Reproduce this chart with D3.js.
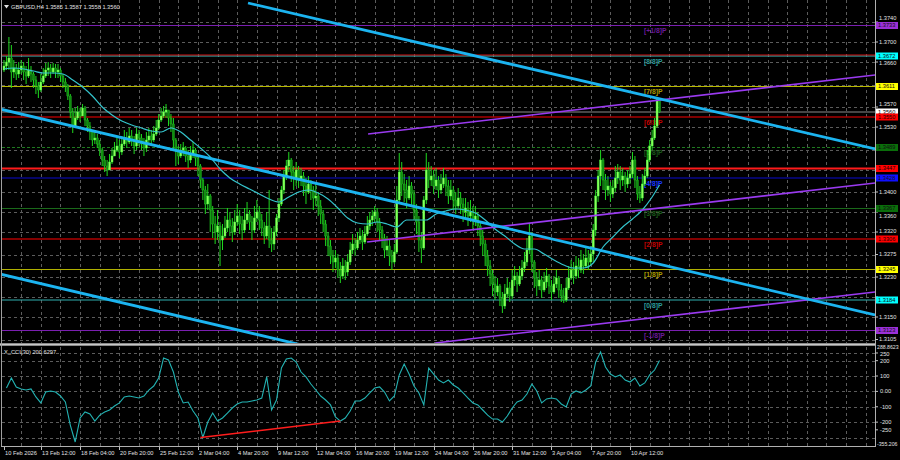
<!DOCTYPE html>
<html><head><meta charset="utf-8">
<script src="https://cdn.jsdelivr.net/npm/d3@7"></script>
<style>html,body{margin:0;padding:0;background:#000;}svg{display:block}</style>
</head><body>
<svg id="c" width="900" height="460"></svg>
<script>
// ---------------- DATA ----------------
const symbolTitle = "GBPUSD,H4  1.3585 1.3587 1.3558 1.3560";
const cciTitle = "X_CCI(30) 200.6297";
const firstOpen = 1.3644;
const closes = [
1.3652,1.3660,1.3668,1.3640,1.3648,1.3636,1.3644,1.3652,1.3640,1.3632,
1.3644,1.3636,1.3624,1.3612,1.3604,1.3620,1.3632,1.3644,1.3648,1.3640,
1.3648,1.3640,1.3644,1.3632,1.3620,1.3612,1.3592,1.3560,1.3532,1.3548,
1.3560,1.3552,1.3568,1.3544,1.3532,1.3520,1.3504,1.3508,1.3496,1.3484,
1.3464,1.3452,1.3444,1.3460,1.3472,1.3484,1.3492,1.3480,1.3496,1.3508,
1.3500,1.3512,1.3504,1.3492,1.3516,1.3508,1.3496,1.3488,1.3504,1.3512,
1.3504,1.3516,1.3528,1.3544,1.3552,1.3560,1.3564,1.3548,1.3536,1.3504,
1.3484,1.3472,1.3484,1.3488,1.3472,1.3464,1.3476,1.3484,1.3468,1.3452,
1.3424,1.3404,1.3376,1.3392,1.3364,1.3336,1.3320,1.3332,1.3304,1.3312,
1.3328,1.3344,1.3332,1.3320,1.3340,1.3352,1.3336,1.3324,1.3344,1.3356,
1.3340,1.3324,1.3348,1.3360,1.3344,1.3328,1.3312,1.3332,1.3304,1.3296,
1.3320,1.3348,1.3376,1.3404,1.3432,1.3452,1.3464,1.3440,1.3428,1.3444,
1.3424,1.3432,1.3412,1.3400,1.3416,1.3404,1.3388,1.3392,1.3372,1.3356,
1.3336,1.3312,1.3292,1.3272,1.3260,1.3268,1.3244,1.3232,1.3252,1.3240,
1.3260,1.3284,1.3296,1.3288,1.3304,1.3312,1.3300,1.3316,1.3332,1.3344,
1.3352,1.3360,1.3340,1.3324,1.3308,1.3284,1.3292,1.3272,1.3260,1.3280,
1.3384,1.3440,1.3416,1.3404,1.3388,1.3412,1.3396,1.3364,1.3340,1.3304,
1.3288,1.3384,1.3444,1.3424,1.3432,1.3412,1.3424,1.3404,1.3416,1.3428,
1.3412,1.3392,1.3404,1.3384,1.3372,1.3388,1.3376,1.3360,1.3368,1.3352,
1.3360,1.3344,1.3352,1.3332,1.3312,1.3296,1.3272,1.3252,1.3236,1.3216,
1.3200,1.3212,1.3188,1.3172,1.3196,1.3208,1.3192,1.3224,1.3232,1.3216,
1.3232,1.3248,1.3260,1.3284,1.3312,1.3260,1.3228,1.3212,1.3224,1.3204,
1.3220,1.3232,1.3212,1.3200,1.3216,1.3228,1.3204,1.3192,1.3184,1.3208,
1.3228,1.3244,1.3232,1.3252,1.3244,1.3264,1.3252,1.3268,1.3260,1.3276,
1.3324,1.3392,1.3432,1.3464,1.3424,1.3404,1.3412,1.3396,1.3408,1.3428,
1.3440,1.3424,1.3432,1.3416,1.3428,1.3436,1.3464,1.3424,1.3396,1.3388,
1.3416,1.3432,1.3464,1.3492,1.3508,1.3532,1.3585,1.3560];
const highs = [
1.3664,1.3672,1.3710,1.3694,1.3664,1.3656,1.3660,1.3664,1.3660,1.3652,
1.3668,1.3652,1.3640,1.3632,1.3620,1.3636,1.3648,1.3658,1.3660,1.3656,
1.3658,1.3656,1.3656,1.3648,1.3636,1.3628,1.3616,1.3596,1.3568,1.3568,
1.3572,1.3568,1.3576,1.3572,1.3548,1.3540,1.3524,1.3524,1.3516,1.3504,
1.3488,1.3472,1.3464,1.3476,1.3488,1.3500,1.3508,1.3504,1.3512,1.3524,
1.3520,1.3528,1.3524,1.3512,1.3528,1.3524,1.3516,1.3508,1.3520,1.3528,
1.3524,1.3532,1.3544,1.3556,1.3568,1.3572,1.3576,1.3564,1.3556,1.3548,
1.3508,1.3492,1.3496,1.3500,1.3492,1.3484,1.3492,1.3500,1.3488,1.3472,
1.3456,1.3428,1.3412,1.3416,1.3396,1.3372,1.3352,1.3364,1.3340,1.3336,
1.3352,1.3368,1.3360,1.3348,1.3364,1.3376,1.3364,1.3352,1.3368,1.3380,
1.3364,1.3352,1.3372,1.3384,1.3372,1.3356,1.3340,1.3360,1.3404,1.3328,
1.3332,1.3356,1.3388,1.3412,1.3444,1.3464,1.3480,1.3468,1.3452,1.3460,
1.3452,1.3448,1.3440,1.3428,1.3432,1.3424,1.3412,1.3416,1.3400,1.3384,
1.3364,1.3344,1.3320,1.3304,1.3284,1.3284,1.3276,1.3260,1.3268,1.3264,
1.3276,1.3300,1.3316,1.3308,1.3320,1.3328,1.3324,1.3332,1.3352,1.3360,
1.3364,1.3372,1.3368,1.3348,1.3332,1.3316,1.3312,1.3304,1.3284,1.3296,
1.3412,1.3478,1.3460,1.3436,1.3424,1.3432,1.3420,1.3404,1.3376,1.3352,
1.3320,1.3392,1.3478,1.3460,1.3452,1.3444,1.3448,1.3432,1.3436,1.3448,
1.3436,1.3424,1.3424,1.3412,1.3400,1.3408,1.3400,1.3388,1.3388,1.3380,
1.3384,1.3372,1.3372,1.3360,1.3340,1.3324,1.3304,1.3284,1.3264,1.3244,
1.3232,1.3228,1.3216,1.3200,1.3216,1.3228,1.3220,1.3244,1.3252,1.3240,
1.3252,1.3264,1.3280,1.3308,1.3338,1.3320,1.3264,1.3240,1.3244,1.3232,
1.3240,1.3248,1.3236,1.3224,1.3232,1.3244,1.3232,1.3216,1.3208,1.3228,
1.3252,1.3264,1.3260,1.3272,1.3268,1.3284,1.3276,1.3288,1.3284,1.3292,
1.3336,1.3404,1.3444,1.3484,1.3468,1.3436,1.3432,1.3420,1.3424,1.3452,
1.3456,1.3452,1.3448,1.3440,1.3444,1.3452,1.3480,1.3472,1.3432,1.3412,
1.3436,1.3448,1.3484,1.3504,1.3524,1.3548,1.3586,1.3587];
const lows = [
1.3640,1.3644,1.3644,1.3608,1.3628,1.3624,1.3628,1.3636,1.3624,1.3616,
1.3628,1.3620,1.3608,1.3596,1.3588,1.3600,1.3616,1.3628,1.3632,1.3628,
1.3636,1.3628,1.3628,1.3620,1.3608,1.3600,1.3584,1.3548,1.3518,1.3528,
1.3544,1.3540,1.3552,1.3532,1.3520,1.3504,1.3492,1.3496,1.3488,1.3472,
1.3452,1.3440,1.3432,1.3444,1.3456,1.3472,1.3480,1.3468,1.3474,1.3492,
1.3488,1.3496,1.3492,1.3476,1.3484,1.3492,1.3484,1.3472,1.3480,1.3496,
1.3492,1.3500,1.3512,1.3524,1.3540,1.3548,1.3548,1.3532,1.3520,1.3484,
1.3452,1.3456,1.3468,1.3472,1.3460,1.3448,1.3458,1.3468,1.3452,1.3432,
1.3408,1.3384,1.3356,1.3364,1.3320,1.3308,1.3296,1.3304,1.3252,1.3284,
1.3308,1.3320,1.3312,1.3300,1.3314,1.3332,1.3316,1.3304,1.3318,1.3336,
1.3324,1.3304,1.3318,1.3340,1.3324,1.3312,1.3296,1.3306,1.3288,1.3280,
1.3284,1.3312,1.3340,1.3372,1.3396,1.3424,1.3440,1.3420,1.3404,1.3412,
1.3408,1.3412,1.3392,1.3376,1.3396,1.3384,1.3364,1.3372,1.3352,1.3336,
1.3320,1.3292,1.3272,1.3256,1.3240,1.3248,1.3228,1.3218,1.3226,1.3224,
1.3232,1.3254,1.3276,1.3272,1.3284,1.3296,1.3284,1.3296,1.3312,1.3324,
1.3332,1.3340,1.3320,1.3304,1.3288,1.3268,1.3272,1.3252,1.3244,1.3256,
1.3276,1.3376,1.3392,1.3380,1.3368,1.3384,1.3372,1.3344,1.3316,1.3280,
1.3258,1.3284,1.3376,1.3408,1.3412,1.3396,1.3404,1.3388,1.3396,1.3408,
1.3392,1.3376,1.3384,1.3364,1.3356,1.3368,1.3356,1.3340,1.3344,1.3332,
1.3340,1.3324,1.3332,1.3312,1.3292,1.3272,1.3252,1.3232,1.3212,1.3192,
1.3184,1.3192,1.3172,1.3158,1.3166,1.3188,1.3180,1.3186,1.3212,1.3200,
1.3212,1.3224,1.3240,1.3252,1.3276,1.3240,1.3208,1.3192,1.3204,1.3188,
1.3200,1.3208,1.3196,1.3184,1.3196,1.3208,1.3188,1.3180,1.3178,1.3180,
1.3204,1.3224,1.3216,1.3226,1.3228,1.3238,1.3236,1.3248,1.3244,1.3254,
1.3260,1.3312,1.3380,1.3412,1.3404,1.3384,1.3392,1.3380,1.3388,1.3400,
1.3416,1.3404,1.3412,1.3400,1.3408,1.3416,1.3428,1.3408,1.3384,1.3378,
1.3382,1.3412,1.3428,1.3460,1.3484,1.3504,1.3528,1.3558];

// moving average (cyan thin line), sampled bars
const maBars = [0,4,8,12,16,20,24,28,32,36,40,44,48,52,56,60,64,68,72,76,80,84,88,92,96,100,104,108,112,116,120,124,128,132,136,140,144,148,152,156,160,164,168,172,176,180,184,188,192,196,200,204,208,212,216,220,224,228,232,236,240,244,248,252,256,260,264,267];
const maValues = [1.3646,1.3648,1.3646,1.3642,1.3638,1.3638,1.3636,1.3624,1.3610,1.3592,1.3570,1.3554,1.3542,1.3534,1.3528,1.3522,1.3520,1.3528,1.3520,1.3504,1.3488,1.3470,1.3446,1.3428,1.3416,1.3406,1.3396,1.3386,1.3380,1.3390,1.3400,1.3404,1.3398,1.3386,1.3368,1.3348,1.3338,1.3336,1.3340,1.3336,1.3330,1.3344,1.3344,1.3344,1.3356,1.3362,1.3366,1.3364,1.3358,1.3344,1.3326,1.3312,1.3296,1.3286,1.3286,1.3276,1.3264,1.3254,1.3248,1.3248,1.3258,1.3290,1.3310,1.3330,1.3346,1.3364,1.3390,1.3414];

// CCI(30), one value every second bar (bars 1,3,5,...,267)
const cciValues = [22,87,29,16,9,16,-36,-75,-4,3,
 -4,-30,-69,-219,-329,-173,-134,-147,-193,-154,
 -134,-121,-95,-75,-36,-30,-36,-43,-30,9,
 35,87,217,204,126,-4,-75,-69,-128,-173,
 -300,-199,-141,-193,-173,-141,-108,-82,-69,-69,
 -62,-56,-43,95,-121,-56,152,211,217,191,
 126,94,48,9,-30,-56,-88,-166,-193,-173,
 -128,-62,-62,-43,-10,22,29,-4,-62,-30,
 107,178,113,35,-10,-88,152,113,74,55,
 74,42,22,-10,-43,-75,-88,-121,-154,-180,
 -180,-199,-160,-108,-69,-56,-17,48,3,-75,
 -49,-43,-49,-82,-101,-17,3,-10,9,35,
 191,256,159,113,94,107,74,61,87,35,
 55,107,139,200.63];
const divergenceBars = [80, 137];
const divergenceValues = [-300, -193];

// Murrey math levels
const murreyLabels = ["[+1/8]P","[8/8]P","[7/8]P","[6/8]P","[5/8]P","[4/8]P","[3/8]P","[2/8]P","[1/8]P","[0/8]P","[-1/8]P"];
const murreyPrices = [1.3733,1.3672,1.3611,1.3550,1.3489,1.3428,1.3367,1.3306,1.3245,1.3184,1.3123];
const extraRedLevels = [1.3674, 1.3447];
const currentPrice = 1.3560;

// trend lines (cyan) and channel (purple): [bar, price] endpoints
const trendBars = [[99.4,354.8],[-1.63,354.8],[-1.63,354.8]];
const trendPrices = [[1.3778,1.3486],[1.3566,1.3154],[1.3236,1.2824]];
const channelBars = [[148.3,354.8],[147.9,354.8],[175.6,354.8]];
const channelPrices = [[1.3516,1.3634],[1.3300,1.3418],[1.3098,1.3200]];

// axes
const priceTicks = [1.3740,1.3700,1.3660,1.3615,1.3570,1.3530,1.3485,1.3445,1.3400,1.3360,1.3320,1.3275,1.3230,1.3190,1.3150,1.3105];
const cciTicks = [250,200,100,0,-100,-200,-250];
const cciTickLabels = ["250","200","100","0.00","-100","-200","-250"];
const cciMax = 288.8623, cciMin = -355.206;
const timeLabels = ["10 Feb 2026","13 Feb 12:00","18 Feb 04:00","20 Feb 20:00","25 Feb 12:00","2 Mar 04:00","4 Mar 20:00","9 Mar 12:00","12 Mar 04:00","16 Mar 20:00","19 Mar 12:00","24 Mar 04:00","26 Mar 20:00","31 Mar 12:00","3 Apr 04:00","7 Apr 20:00","10 Apr 12:00"];
const timeLabelBars = [0,15,31,47,63,79,95,111,127,143,159,175,191,207,223,239,255];

// ---------------- STYLES / LAYOUT ----------------
const murreyLineColors = ["#7a1fb0","#3fbfbf","#b8b800","#a80000","#1f7a1f","#0a0ad0","#1a6a1a","#b00000","#b0b000","#2fb0b0","#7a1fb0"];
const murreyTextColors = ["#6a1a9a","#2a9a9a","#a89a00","#c00000","#1a5a1a","#1a3aff","#1a5a1a","#c00000","#a89a00","#2a9a9a","#6a1a9a"];
const murreyTagColors = ["#9b30d8","#00ffff","#ffff00","#ff0000","#0a6e0a","#1010ff","#0a6e0a","#ff0000","#ffff00","#00ffff","#9b30d8"];
const FONT = "'Liberation Sans', Arial, sans-serif";
const W=900, H=460, L=2, R=875, mainT=0, mainB=343, cciT=347, cciB=446;

const svg = d3.select('#c');
svg.append('rect').attr('width',W).attr('height',H).attr('fill','#000');
const defs = svg.append('defs');
defs.append('clipPath').attr('id','mainClip').append('rect').attr('x',L).attr('y',mainT).attr('width',R-L).attr('height',mainB-mainT);
defs.append('clipPath').attr('id','cciClip').append('rect').attr('x',L).attr('y',cciT).attr('width',R-L).attr('height',cciB-cciT);

const x = d3.scaleLinear().domain([0,267]).range([4,659.5]);
const y = d3.scaleLinear().domain([1.3105,1.3740]).range([339.5,22]);
const yc = d3.scaleLinear().domain([cciMin,cciMax]).range([cciB,cciT]);

// grid
const grid = svg.append('g').attr('stroke','#5c5c5c').attr('stroke-width',1).attr('stroke-dasharray','3,3');
const vBars = d3.range(7, 360, 8).filter(b => x(b) < R);
vBars.forEach(b => {
  const gx = Math.round(x(b))+0.5;
  grid.append('line').attr('x1',gx).attr('x2',gx).attr('y1',mainT).attr('y2',mainB);
  grid.append('line').attr('x1',gx).attr('x2',gx).attr('y1',cciT).attr('y2',cciB);
});
priceTicks.forEach(p => {
  const gy = Math.round(y(p))+0.5;
  grid.append('line').attr('x1',L).attr('x2',R).attr('y1',gy).attr('y2',gy);
});
[250,200,100,0,-100,-200,-300].forEach(v => {
  const gy = Math.round(yc(v))+0.5;
  grid.append('line').attr('x1',L).attr('x2',R).attr('y1',gy).attr('y2',gy);
});

// main panel content
const main = svg.append('g').attr('clip-path','url(#mainClip)');
murreyPrices.forEach((p,i) => {
  main.append('line').attr('x1',L).attr('x2',R).attr('y1',y(p)).attr('y2',y(p))
    .attr('stroke',murreyLineColors[i]).attr('stroke-width', i===3||i===7 ? 1.5 : 1.2)
    .attr('stroke-dasharray', i===4 ? '3,2' : null);
});
main.append('line').attr('x1',L).attr('x2',R).attr('y1',y(extraRedLevels[0])).attr('y2',y(extraRedLevels[0])).attr('stroke','#d01010').attr('stroke-width',1.2);
main.append('line').attr('x1',L).attr('x2',R).attr('y1',y(extraRedLevels[1])).attr('y2',y(extraRedLevels[1])).attr('stroke','#ff1a1a').attr('stroke-width',2.2);
main.append('line').attr('x1',L).attr('x2',R).attr('y1',y(currentPrice)).attr('y2',y(currentPrice)).attr('stroke','#8c8c8c').attr('stroke-width',1);

murreyLabels.forEach((t,i) => {
  main.append('text').attr('x',644).attr('y',y(murreyPrices[i])+7.5)
    .attr('fill',murreyTextColors[i]).attr('font-family',FONT).attr('font-size',6.8).attr('font-weight','bold').text(t);
});

// candles
const opens = closes.map((c,i) => i===0 ? firstOpen : closes[i-1]);
const cg = main.append('g');
closes.forEach((c,i) => {
  const o = opens[i], cx = x(i);
  cg.append('line').attr('x1',cx).attr('x2',cx).attr('y1',y(highs[i])).attr('y2',y(lows[i]))
    .attr('stroke','#1fd81f').attr('stroke-width',1);
  const top = y(Math.max(o,c)), bot = y(Math.min(o,c));
  cg.append('rect').attr('x',cx-1).attr('y',top).attr('width',2).attr('height',Math.max(1,bot-top))
    .attr('fill', c>=o ? '#8dff5c' : '#0f8f0f').attr('stroke', c>=o ? '#3aff3a' : '#26c026').attr('stroke-width',0.4);
});

// moving average
main.append('path').datum(maBars.map((b,i)=>[b,maValues[i]]))
  .attr('d', d3.line().x(d=>x(d[0])).y(d=>y(d[1])).curve(d3.curveMonotoneX))
  .attr('fill','none').attr('stroke','#34c4cc').attr('stroke-width',1.2);

channelBars.forEach((b,i) => {
  main.append('line').attr('x1',x(b[0])).attr('x2',x(b[1])).attr('y1',y(channelPrices[i][0])).attr('y2',y(channelPrices[i][1]))
    .attr('stroke','#9a3af0').attr('stroke-width',1.6);
});
trendBars.forEach((b,i) => {
  main.append('line').attr('x1',x(b[0])).attr('x2',x(b[1])).attr('y1',y(trendPrices[i][0])).attr('y2',y(trendPrices[i][1]))
    .attr('stroke','#1cb4f0').attr('stroke-width',2.8);
});

// CCI panel
const cci = svg.append('g').attr('clip-path','url(#cciClip)');
cci.append('path').datum(cciValues.map((v,k)=>[2*k+1, v]))
  .attr('d', d3.line().x(d=>x(d[0])).y(d=>yc(d[1])))
  .attr('fill','none').attr('stroke','#23b3b3').attr('stroke-width',1.1);
cci.append('line').attr('x1',x(divergenceBars[0])).attr('x2',x(divergenceBars[1]))
  .attr('y1',yc(divergenceValues[0])).attr('y2',yc(divergenceValues[1]))
  .attr('stroke','#ff1c1c').attr('stroke-width',1.4);

// borders & separator
svg.append('rect').attr('x',0).attr('y',mainB).attr('width',R+1).attr('height',3).attr('fill','#8a8a8a');
svg.append('line').attr('x1',0).attr('x2',R).attr('y1',mainB+1.5).attr('y2',mainB+1.5).attr('stroke','#c8c8c8').attr('stroke-width',1);
svg.append('line').attr('x1',1.5).attr('x2',1.5).attr('y1',0).attr('y2',cciB+1).attr('stroke','#a0a0a0');
svg.append('line').attr('x1',R+0.5).attr('x2',R+0.5).attr('y1',0).attr('y2',cciB+1).attr('stroke','#b0b0b0');
svg.append('line').attr('x1',1).attr('x2',R+1).attr('y1',cciB+0.5).attr('y2',cciB+0.5).attr('stroke','#b0b0b0');

// right price axis: ticks, labels under tags hidden, near ones nudged
const tagPrices = murreyPrices.concat([extraRedLevels[1], currentPrice]);
const ya = svg.append('g');
priceTicks.forEach(p => {
  const ty = y(p);
  ya.append('line').attr('x1',R).attr('x2',R+3).attr('y1',ty).attr('y2',ty).attr('stroke','#c0c0c0');
  let nearest = null, dmin = 1e9;
  tagPrices.forEach(tp => { const d = Math.abs(y(tp)-ty); if (d < dmin) { dmin = d; nearest = y(tp); } });
  if (dmin < 3.2) return;
  let ly = ty;
  if (dmin < 7.5) ly = ty < nearest ? nearest - 7.5 : nearest + 7.5;
  ya.append('text').attr('x',R+4).attr('y',ly).attr('dy','0.35em').attr('fill','#e0e0e0')
    .attr('font-family',FONT).attr('font-size',5.7).text(d3.format('.4f')(p));
});

// tags
const tags = svg.append('g');
function tag(p, bg, tc) {
  const ty = y(p);
  tags.append('rect').attr('x',R+1).attr('y',ty-3.5).attr('width',22).attr('height',7).attr('fill',bg);
  tags.append('text').attr('x',R+3).attr('y',ty).attr('dy','0.35em').attr('fill',tc)
    .attr('font-family',FONT).attr('font-size',5.7).text(d3.format('.4f')(p));
}
murreyPrices.forEach((p,i) => { if (i!==3 && i!==7) tag(p, murreyTagColors[i], '#101010'); });
tag(extraRedLevels[1], '#ff0000', '#200000');
tag(murreyPrices[7], murreyTagColors[7], '#200000');
tag(currentPrice, '#ffffff', '#000000');
tag(murreyPrices[3], murreyTagColors[3], '#200000');

// CCI axis
const ca = svg.append('g');
cciTicks.forEach((v,i) => {
  ca.append('line').attr('x1',R).attr('x2',R+3).attr('y1',yc(v)).attr('y2',yc(v)).attr('stroke','#c0c0c0');
  ca.append('text').attr('x',R+5).attr('y',yc(v) + (i===0 ? 1.5 : 0)).attr('dy','0.35em').attr('fill','#e0e0e0')
    .attr('font-family',FONT).attr('font-size',5.7).text(cciTickLabels[i]);
});
ca.append('text').attr('x',R+2).attr('y',yc(cciMax)+0.5).attr('dy','0.35em').attr('fill','#e0e0e0')
  .attr('font-family',FONT).attr('font-size',5.2).text(d3.format('.4f')(cciMax));
ca.append('text').attr('x',R+2).attr('y',yc(cciMin)-2).attr('dy','0.35em').attr('fill','#e0e0e0')
  .attr('font-family',FONT).attr('font-size',5.2).text(cciMin.toFixed(3));

// time axis
const ta = svg.append('g');
timeLabelBars.forEach((b,i) => {
  const tx = Math.round(x(b))+0.5;
  ta.append('line').attr('x1',tx).attr('x2',tx).attr('y1',cciB+1).attr('y2',cciB+4).attr('stroke','#c0c0c0');
  ta.append('text').attr('x',tx+0.5).attr('y',453).attr('dy','0.35em').attr('fill','#e0e0e0')
    .attr('font-family',FONT).attr('font-size',5.7).text(timeLabels[i]);
});

// titles
svg.append('path').attr('d','M4,5 L9,5 L6.5,8.5 Z').attr('fill','#e0e0e0');
svg.append('text').attr('x',11).attr('y',7).attr('dy','0.35em').attr('fill','#e0e0e0')
  .attr('font-family',FONT).attr('font-size',5.7).text(symbolTitle);
svg.append('text').attr('x',4).attr('y',352).attr('dy','0.35em').attr('fill','#e0e0e0')
  .attr('font-family',FONT).attr('font-size',5.7).text(cciTitle);
</script>
</body></html>
